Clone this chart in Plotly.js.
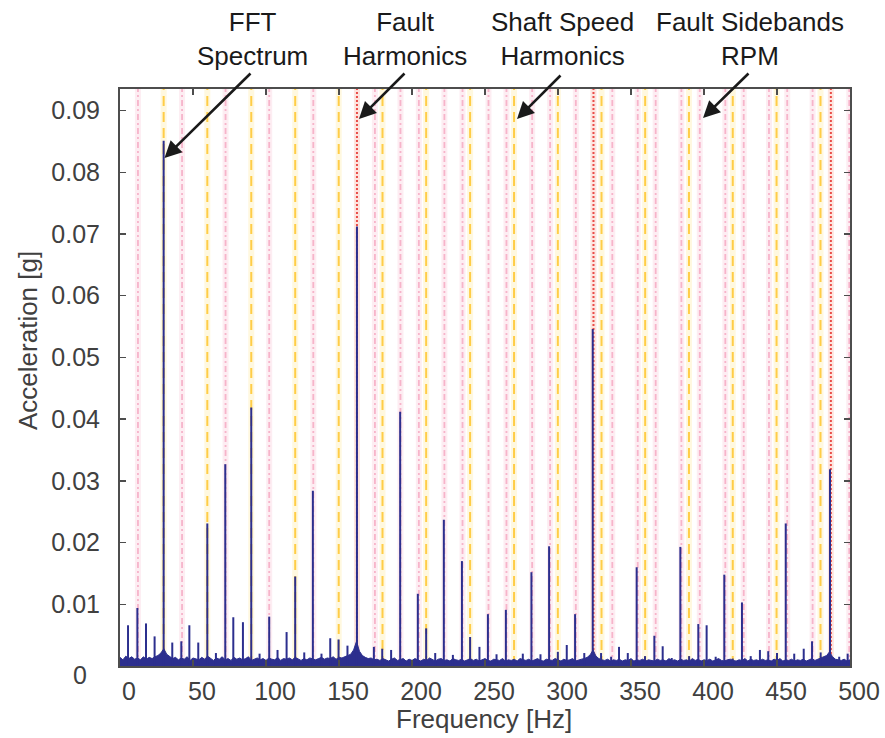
<!DOCTYPE html>
<html>
<head>
<meta charset="utf-8">
<script src="https://cdn.plot.ly/plotly-3.0.1.min.js"></script>
<style>html,body{margin:0;padding:0;background:#fff;}#chart{width:885px;height:738px;}</style>
</head>
<body>
<div id="chart"></div>
<script>
// ---- Data ----
// Spectral peaks (Hz) and amplitudes (g)
const peakHz = [5.5, 11.9, 17.8, 23.7, 29.9, 35.8, 42.0, 47.5, 53.6, 59.8, 65.7, 72.1, 77.6, 84.2, 89.9, 95.6,
  102.2, 107.9, 114.1, 120.0, 126.2, 132.1, 138.0, 144.0, 149.7, 155.8, 162.3,
  173.9, 179.6, 185.7, 191.9, 204.0, 209.7, 215.9, 221.8, 228.0, 234.2, 239.8, 246.2, 252.0, 257.9, 264.3,
  275.9, 281.8, 288.0, 293.9, 299.9, 306.0, 311.7, 318.0, 323.8, 329.5,
  336.4, 341.8, 347.8, 353.9, 359.6, 366.0, 371.7, 377.9, 383.8, 389.8, 396.1, 401.8, 408.0, 413.9, 419.7,
  426.0, 432.0, 438.3, 444.0, 450.0, 456.0, 461.8, 468.3, 474.0, 479.9, 486.3, 492.6, 498.4];
const peakAmp = [0.0066, 0.0094, 0.0069, 0.0048, 0.0851, 0.0038, 0.0040, 0.0066, 0.0038, 0.0231, 0.0021, 0.0327, 0.0079, 0.0071, 0.0419, 0.0020,
  0.0080, 0.0026, 0.0055, 0.0145, 0.0022, 0.0284, 0.0020, 0.0045, 0.0043, 0.0033, 0.0712,
  0.0031, 0.0028, 0.0026, 0.0412, 0.0117, 0.0061, 0.0021, 0.0237, 0.0018, 0.0170, 0.0047, 0.0031, 0.0084, 0.0019, 0.0091,
  0.0020, 0.0152, 0.0019, 0.0194, 0.0023, 0.0034, 0.0084, 0.0021, 0.0546, 0.0021,
  0.0015, 0.0031, 0.0021, 0.0160, 0.0016, 0.0049, 0.0032, 0.0013, 0.0193, 0.0016, 0.0068, 0.0066, 0.0015, 0.0148, 0.0012,
  0.0103, 0.0016, 0.0026, 0.0024, 0.0021, 0.0231, 0.0020, 0.0028, 0.0040, 0.0022, 0.0319, 0.0015, 0.0020];

// Noise floor (g), sampled every 2 Hz from 0 to 500 Hz
const floorAmp = [
  0.0014,0.0010,0.0016,0.0012,0.0015,0.0011,
  0.0013,0.0010,0.0015,0.0011,0.0014,
  0.0012,0.0015,0.0017,0.0021,
  0.0028,
  0.0019,0.0015,0.0012,0.0014,0.0010,
  0.0013,0.0011,0.0015,0.0009,0.0013,0.0012,0.0010,0.0014,0.0011,0.0016,
  0.0012,0.0009,0.0013,0.0011,0.0015,0.0010,0.0012,0.0009,0.0014,0.0011,
  0.0013,0.0010,0.0012,0.0015,0.0009,0.0011,0.0013,0.0010,0.0012,0.0009,
  0.0013,0.0011,0.0010,0.0014,0.0009,0.0012,0.0011,0.0013,0.0010,0.0014,
  0.0011,0.0009,0.0012,0.0010,0.0013,0.0011,0.0010,0.0012,0.0014,0.0011,
  0.0013,0.0012,0.0015,0.0011,0.0014,0.0013,0.0015,0.0016,0.0019,0.0026,
  0.0040,
  0.0024,0.0017,0.0014,0.0012,0.0013,0.0010,0.0011,0.0009,0.0012,
  0.0010,0.0008,0.0011,0.0013,0.0009,0.0010,0.0012,0.0008,0.0011,0.0009,
  0.0012,0.0010,0.0008,0.0011,0.0009,0.0013,0.0010,0.0008,0.0011,0.0012,
  0.0009,0.0010,0.0008,0.0012,0.0010,0.0009,0.0011,0.0008,0.0010,0.0012,
  0.0009,0.0011,0.0008,0.0010,0.0012,0.0009,0.0008,0.0011,0.0010,0.0009,
  0.0012,0.0008,0.0010,0.0009,0.0011,0.0008,0.0012,0.0010,0.0009,0.0011,
  0.0008,0.0010,0.0012,0.0009,0.0008,0.0011,0.0010,0.0009,0.0012,0.0010,
  0.0008,0.0011,0.0009,0.0010,0.0012,0.0008,0.0010,0.0011,0.0012,0.0014,
  0.0018,0.0026,0.0016,
  0.0012,0.0010,0.0009,0.0011,0.0008,0.0010,0.0009,
  0.0011,0.0008,0.0010,0.0009,0.0012,0.0008,0.0010,0.0009,0.0011,0.0008,
  0.0010,0.0009,0.0008,0.0011,0.0009,0.0010,0.0008,0.0012,0.0009,0.0010,
  0.0008,0.0011,0.0009,0.0010,0.0008,0.0012,0.0009,0.0011,0.0008,0.0010,
  0.0009,0.0011,0.0008,0.0010,0.0012,0.0009,0.0008,0.0010,0.0011,0.0009,
  0.0008,0.0010,0.0009,0.0012,0.0008,0.0011,0.0009,0.0010,0.0008,0.0011,
  0.0009,0.0010,0.0008,0.0011,0.0009,0.0012,0.0008,0.0010,0.0009,0.0011,
  0.0008,0.0010,0.0009,0.0011,0.0008,0.0010,0.0012,0.0009,0.0011,0.0012,
  0.0014,0.0017,0.0023,
  0.0015,0.0011,0.0010,0.0009,0.0011,0.0008,0.0010];

// Marker line frequencies (Hz)
const shaftHz = [29.9, 59.8, 89.9, 120.0, 149.8, 179.8, 209.7, 239.8, 269.9, 299.9, 329.8, 359.7, 389.7, 419.7, 449.7, 479.8];
const faultHz = [162.3, 324.3, 486.9];
const sidebandHz = [12.3, 42.5, 72.3, 102.2, 132.4, 174.6, 192.1, 204.7, 222.2, 234.6, 252.4, 264.7, 282.3, 294.6, 312.2,
  337.2, 354.6, 366.9, 384.5, 397.1, 414.6, 427.2, 444.5, 457.0, 474.4, 499.5];

const xTicks = [0, 50, 100, 150, 200, 250, 300, 350, 400, 450, 500];
const yTicks = [0.01, 0.02, 0.03, 0.04, 0.05, 0.06, 0.07, 0.08, 0.09];
const yTickText = ['0.01', '0.02', '0.03', '0.04', '0.05', '0.06', '0.07', '0.08', '0.09'];

const labels = {
  fft: 'FFT<br>Spectrum',
  fault: 'Fault<br>Harmonics',
  shaft: 'Shaft Speed<br>Harmonics',
  side: 'Fault Sidebands<br>RPM',
  x: 'Frequency [Hz]',
  y: 'Acceleration [g]'
};

// ---- Build traces ----
const YMAX = 0.0935;
const NAVY = '#2c2f8e';
const FONT = 'Liberation Sans, Arial, Helvetica, sans-serif';

function vlines(xs) {
  const x = [], y = [];
  xs.forEach(v => { x.push(v, v, null); y.push(0, YMAX, null); });
  return {x, y};
}
function stems(xs, ys) {
  const x = [], y = [];
  xs.forEach((v, i) => { x.push(v, v, null); y.push(0, ys[i], null); });
  return {x, y};
}

const floorHz = floorAmp.map((_, i) => i * 500 / (floorAmp.length - 1));
const st = stems(peakHz, peakAmp);
const sh = vlines(shaftHz), fa = vlines(faultHz), sb = vlines(sidebandHz);

const traces = [
  // bands
  {x: sb.x, y: sb.y, type: 'scatter', mode: 'lines', line: {color: 'rgba(245,165,190,0.2)', width: 6}, hoverinfo: 'skip'},
  {x: sh.x, y: sh.y, type: 'scatter', mode: 'lines', line: {color: 'rgba(255,225,110,0.22)', width: 6}, hoverinfo: 'skip'},
  {x: fa.x, y: fa.y, type: 'scatter', mode: 'lines', line: {color: 'rgba(250,170,150,0.3)', width: 6}, hoverinfo: 'skip'},
  // styled lines
  {x: sb.x, y: sb.y, type: 'scatter', mode: 'lines', line: {color: 'rgba(243,155,185,0.7)', width: 1.8, dash: '6px,3px,2px,3px'}, hoverinfo: 'skip'},
  {x: sh.x, y: sh.y, type: 'scatter', mode: 'lines', line: {color: 'rgba(255,198,45,0.85)', width: 2, dash: '10px,6px'}, hoverinfo: 'skip'},
  {x: fa.x, y: fa.y, type: 'scatter', mode: 'lines', line: {color: 'rgba(232,60,55,0.9)', width: 2, dash: '2px,2px'}, hoverinfo: 'skip'},
  // spectrum on top
  {x: floorHz, y: floorAmp, type: 'scatter', mode: 'lines', fill: 'tozeroy',
   line: {color: NAVY, width: 1}, fillcolor: NAVY, hoverinfo: 'skip'},
  {x: st.x, y: st.y, type: 'scatter', mode: 'lines', line: {color: NAVY, width: 2}, hoverinfo: 'skip'}
];

// pixel helpers for annotation placement (plot area: l=120, t=89, w=730, h=577)
const px = v => (v - 120) / 730;
const py = v => (666 - v) / 577;

const textAnn = (t, cx, cy) => ({text: t, xref: 'paper', yref: 'paper', x: px(cx), y: py(cy),
  xanchor: 'center', yanchor: 'middle', showarrow: false, font: {family: FONT, size: 26, color: '#1a1a1a'}});
const arrowAnn = (hx, hy, tx, ty) => ({text: '', xref: 'paper', yref: 'paper', x: px(hx), y: py(hy),
  ax: tx - hx, ay: ty - hy, axref: 'pixel', ayref: 'pixel', showarrow: true,
  arrowhead: 2, arrowsize: 1.3, arrowwidth: 2.6, arrowcolor: '#1a1a1a', standoff: 0, startstandoff: 0});

const layout = {
  width: 885, height: 738,
  margin: {l: 120, r: 35, t: 89, b: 72, pad: 0},
  paper_bgcolor: '#ffffff', plot_bgcolor: '#ffffff',
  showlegend: false,
  font: {family: FONT, color: '#404040'},
  xaxis: {
    range: [0, 500], tickvals: xTicks, ticktext: xTicks.map(String),
    ticks: 'inside', ticklen: 6, tickwidth: 1.5, tickcolor: '#4d4d4d',
    showline: true, linecolor: '#4d4d4d', linewidth: 2, mirror: 'ticks',
    showgrid: false, zeroline: false,
    tickfont: {family: FONT, size: 25, color: '#404040'},
    ticklabelshift: 9, ticklabelstandoff: 2
  },
  yaxis: {
    range: [0, YMAX], tickvals: yTicks, ticktext: yTickText,
    ticks: 'inside', ticklen: 6, tickwidth: 1.5, tickcolor: '#4d4d4d',
    showline: true, linecolor: '#4d4d4d', linewidth: 2, mirror: 'ticks',
    showgrid: false, zeroline: false,
    tickfont: {family: FONT, size: 25, color: '#404040'},
    ticklabelstandoff: 13
  },
  annotations: [
    textAnn(labels.fft, 252, 38.5),
    textAnn(labels.fault, 405, 38.5),
    textAnn(labels.shaft, 562, 38.5),
    textAnn(labels.side, 750, 38.5),
    arrowAnn(164.5, 158, 252, 72),
    arrowAnn(359, 119, 406, 72),
    arrowAnn(517, 119, 562, 74),
    arrowAnn(703, 118, 750, 72),
    {text: labels.x, xref: 'paper', yref: 'paper', x: px(484), y: py(719), xanchor: 'center', yanchor: 'middle',
     showarrow: false, font: {family: FONT, size: 26, color: '#404040'}},
    {text: labels.y, xref: 'paper', yref: 'paper', x: px(28), y: py(341), xanchor: 'center', yanchor: 'middle',
     textangle: -90, showarrow: false, font: {family: FONT, size: 26, color: '#404040'}},
    {text: '0', xref: 'paper', yref: 'paper', x: px(80), y: py(675), xanchor: 'center', yanchor: 'middle',
     showarrow: false, font: {family: FONT, size: 25, color: '#404040'}}
  ]
};

Plotly.newPlot('chart', traces, layout, {staticPlot: true, displayModeBar: false});
</script>
</body>
</html>
